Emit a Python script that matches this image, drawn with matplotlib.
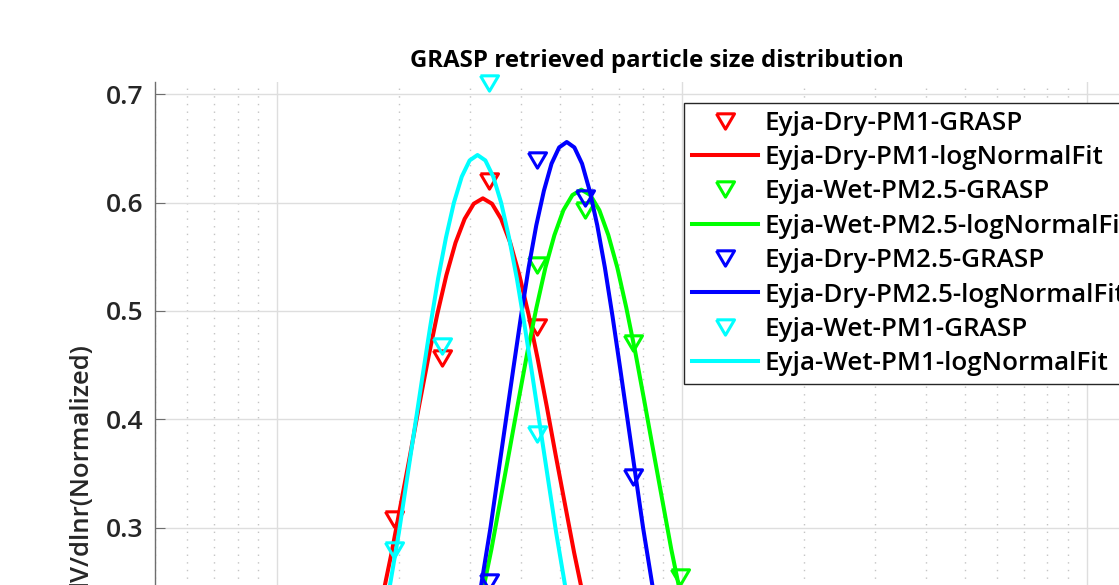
import numpy as np
import matplotlib
matplotlib.use('Agg')
import matplotlib.pyplot as plt

plt.rcParams['font.family'] = ['Open Sans', 'DejaVu Sans']

# GRASP size bins (radius, um) that carry the retrieved points
bin_r = [0.1129, 0.1482, 0.1944, 0.2551, 0.3347, 0.4392, 0.5762, 0.7560, 0.9920, 1.3016]

# retrieved dV/dlnr, normalized
dry_pm1_grasp  = [0.02, 0.12, 0.308, 0.457, 0.620, 0.485, 0.21, 0.07, 0.02, 0.005]
wet_pm25_grasp = [0.00, 0.01, 0.03, 0.09, 0.22, 0.542, 0.593, 0.470, 0.254, 0.08]
dry_pm25_grasp = [0.00, 0.01, 0.03, 0.08, 0.25, 0.639, 0.604, 0.347, 0.12, 0.03]
wet_pm1_grasp  = [0.02, 0.10, 0.279, 0.468, 0.7105, 0.386, 0.12, 0.03, 0.01, 0.0]

# log-normal fit curves
dry_pm1_fit_r = [0.1143, 0.1269, 0.1407, 0.1561, 0.1732, 0.1921, 0.2131, 0.2244, 0.2364, 0.2490,
                 0.2622, 0.2762, 0.2909, 0.3064, 0.3227, 0.3399, 0.3580, 0.3770, 0.3971, 0.4183,
                 0.4406, 0.4640, 0.4887, 0.5421, 0.6014, 0.6671, 0.7401, 0.8210, 0.9107]
dry_pm1_fit_y = [0.027, 0.048, 0.082, 0.131, 0.196, 0.277, 0.366, 0.412, 0.456, 0.497,
                 0.533, 0.563, 0.585, 0.599, 0.604, 0.599, 0.585, 0.563, 0.533, 0.497,
                 0.456, 0.412, 0.366, 0.277, 0.196, 0.131, 0.082, 0.048, 0.027]

wet_pm25_fit_r = [0.2032, 0.2251, 0.2493, 0.2762, 0.3059, 0.3388, 0.3753, 0.3950, 0.4157, 0.4376,
                  0.4605, 0.4847, 0.5101, 0.5369, 0.5650, 0.5946, 0.6259, 0.6587, 0.6932, 0.7295,
                  0.7678, 0.8081, 0.8505, 0.9421, 1.0436, 1.1559, 1.2803, 1.4182, 1.5708]
wet_pm25_fit_y = [0.027, 0.049, 0.083, 0.132, 0.199, 0.280, 0.371, 0.417, 0.462, 0.503,
                  0.540, 0.570, 0.593, 0.607, 0.612, 0.607, 0.593, 0.570, 0.540, 0.503,
                  0.462, 0.417, 0.371, 0.280, 0.199, 0.132, 0.083, 0.049, 0.027]

dry_pm25_fit_r = [0.2184, 0.2382, 0.2598, 0.2833, 0.3090, 0.3370, 0.3675, 0.3838, 0.4008, 0.4186,
                  0.4372, 0.4566, 0.4768, 0.4979, 0.5200, 0.5430, 0.5672, 0.5923, 0.6185, 0.6459,
                  0.6746, 0.7045, 0.7357, 0.8024, 0.8751, 0.9545, 1.0409, 1.1353, 1.2381]
dry_pm25_fit_y = [0.029, 0.052, 0.089, 0.142, 0.213, 0.300, 0.398, 0.447, 0.495, 0.540,
                  0.579, 0.611, 0.636, 0.651, 0.656, 0.651, 0.636, 0.611, 0.579, 0.540,
                  0.495, 0.447, 0.398, 0.300, 0.213, 0.142, 0.089, 0.052, 0.029]

wet_pm1_fit_r = [0.1279, 0.1399, 0.1530, 0.1673, 0.1829, 0.2001, 0.2188, 0.2288, 0.2393, 0.2502,
                 0.2617, 0.2737, 0.2862, 0.2993, 0.3130, 0.3273, 0.3423, 0.3580, 0.3743, 0.3915,
                 0.4094, 0.4282, 0.4477, 0.4897, 0.5355, 0.5856, 0.6405, 0.7004, 0.7660]
wet_pm1_fit_y = [0.028, 0.051, 0.087, 0.139, 0.209, 0.295, 0.391, 0.439, 0.486, 0.530,
                 0.568, 0.600, 0.624, 0.639, 0.644, 0.639, 0.624, 0.600, 0.568, 0.530,
                 0.486, 0.439, 0.391, 0.295, 0.209, 0.139, 0.087, 0.051, 0.028]

series = [
    ('Eyja-Dry-PM1', '#ff0000', dry_pm1_grasp, dry_pm1_fit_r, dry_pm1_fit_y),
    ('Eyja-Wet-PM2.5', '#00ff00', wet_pm25_grasp, wet_pm25_fit_r, wet_pm25_fit_y),
    ('Eyja-Dry-PM2.5', '#0000ff', dry_pm25_grasp, dry_pm25_fit_r, dry_pm25_fit_y),
    ('Eyja-Wet-PM1', '#00ffff', wet_pm1_grasp, wet_pm1_fit_r, wet_pm1_fit_y),
]

# visible y ticks (the lower part of the axis is cropped off the figure)
yticks = [0.3, 0.4, 0.5, 0.6, 0.7]
ytick_labels = ['0.3', '0.4', '0.5', '0.6', '0.7']

# MATLAB style downward triangle, wider than tall
tri = [(-1, 0.85), (1, 0.85), (0, -0.85), (-1, 0.85)]

fig = plt.figure(figsize=(11.19, 5.85), dpi=100)
ax = fig.add_axes([0.1385, -0.4571, 0.8963, 1.3169])

for name, col, pts, fr, fy in series:
    ax.plot(bin_r, pts, linestyle='none', marker=tri, markersize=13,
            markerfacecolor='none', markeredgecolor=col, markeredgewidth=2.2,
            clip_on=False, label=name + '-GRASP')
    ax.plot(fr, fy, color=col, linewidth=2.9, solid_joinstyle='round',
            label=name + '-logNormalFit')

ax.set_xscale('log')
ax.set_xlim(0.05, 15)
ax.set_ylim(0, 0.7114)
ax.set_yticks(yticks)
ax.set_yticklabels(ytick_labels, fontweight='semibold')
ax.tick_params(axis='x', which='both', labelbottom=False)

ax.grid(True, which='major', color='#dedede', linewidth=1.0)
ax.grid(True, which='minor', axis='x', color='#c4c4c4', linestyle=(0, (1, 4.5)), linewidth=1.0)
ax.set_axisbelow(True)

for s in ['top', 'right']:
    ax.spines[s].set_visible(False)
ax.spines['left'].set_color('#6e6e6e')
ax.spines['left'].set_linewidth(1.0)
ax.tick_params(axis='y', direction='in', length=7, width=0.8, color='#6e6e6e',
               labelsize=19, labelcolor='#262626', pad=8)
ax.tick_params(axis='x', which='both', direction='in', color='#6e6e6e')

ax.set_title('GRASP retrieved particle size distribution', fontsize=17.3,
             fontweight='bold', pad=11)
ax.set_ylabel('dV/dlnr(Normalized)', fontsize=18.5, color='#262626', fontweight='semibold')
ax.yaxis.set_label_coords(-0.061, 0.497)

leg = ax.legend(loc='upper left', bbox_to_anchor=(684 / 1119, 1 - 103 / 585),
                bbox_transform=fig.transFigure, borderaxespad=0,
                prop={'size': 18.7, 'weight': 'semibold'},
                fancybox=False, framealpha=1, edgecolor='#262626',
                handlelength=2.55, handletextpad=0.25, labelspacing=0.36,
                borderpad=0.3)
leg.get_frame().set_linewidth(1.0)

fig.savefig('out.png', dpi=100)
